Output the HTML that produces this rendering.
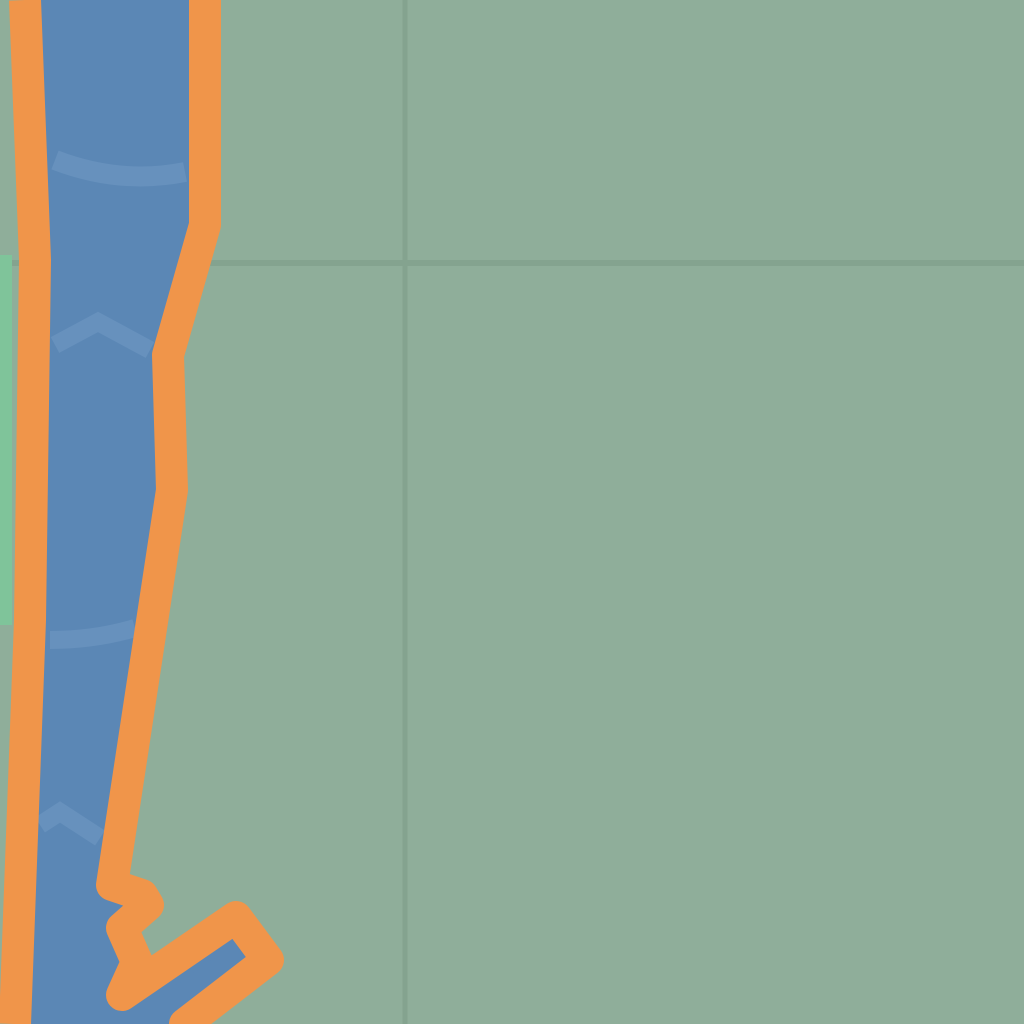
<!DOCTYPE html>
<html><head><meta charset="utf-8"><style>html,body{margin:0;padding:0;background:#8fae9a}svg{display:block}</style></head>
<body>
<svg width="1024" height="1024" viewBox="0 0 1024 1024">
<rect width="1024" height="1024" fill="#8fae9a"/>
<line x1="405" y1="0" x2="405" y2="1024" stroke="#84a38f" stroke-width="5"/>
<line x1="0" y1="263" x2="1024" y2="263" stroke="#84a38f" stroke-width="6"/>
<rect x="0" y="255" width="12" height="370" fill="#7fc49a"/>
<polygon points="25,0 205,0 205,225 165,355 172,490 110,885 140,890 150,905 120,925 135,965 120,995 235,915 270,960 180,1024 15,1024 30,620 35,260" fill="#5b87b5"/>
<path d="M55,160 Q120,185 185,172" stroke="#6791bd" stroke-width="20" fill="none"/>
<path d="M55,345 L98,322 L150,350" stroke="#6791bd" stroke-width="18" fill="none"/>
<path d="M50,640 Q95,640 135,628" stroke="#6791bd" stroke-width="18" fill="none"/>
<path d="M40,825 L60,812 L100,838" stroke="#6791bd" stroke-width="18" fill="none"/>
<polyline points="25,0 35,260 30,620 15,1024" fill="none" stroke="#f0954a" stroke-width="32" stroke-linejoin="round"/>
<polyline points="205,0 205,225 168,355 172,490 112,885 142,895 148,905 122,928 137,962 122,995 236,917 268,960 185,1024" fill="none" stroke="#f0954a" stroke-width="32" stroke-linejoin="round" stroke-linecap="round"/>
<polygon points="148,1005 233,945 243,958 160,1020" fill="#5b87b5"/>
</svg>
</body></html>
